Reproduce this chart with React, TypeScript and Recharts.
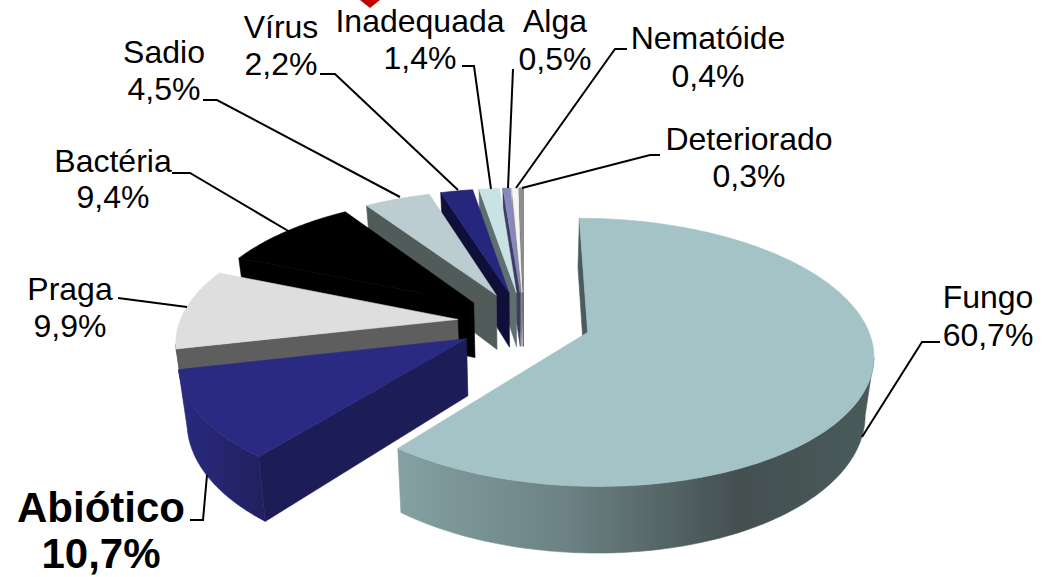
import { PieChart, Pie } from 'recharts';

// data, back-to-front so that the painter's order of the exploded slices works out
const categories = ['Deteriorado', 'Nematóide', 'Alga', 'Inadequada', 'Vírus', 'Sadio', 'Bactéria', 'Praga', 'Abiótico', 'Fungo'];
const values = [0.3, 0.4, 0.5, 1.4, 2.2, 4.5, 9.4, 9.9, 10.7, 60.7];
const valueLabels = ['0,3%', '0,4%', '0,5%', '1,4%', '2,2%', '4,5%', '9,4%', '9,9%', '10,7%', '60,7%'];

const topColors = ['#8F8F8F', '#F4F4F4', '#8888BC', '#C9E3E5', '#26267C', '#BBCDD1', '#000000', '#DEDEDE', '#2A2A82', '#A4C3C7'];
const sideColors = ['#6A6A6A', '#8A8A8A', '#3C3C62', '#5F6E6E', '#0F0F3A', '#505B5A', '#000000', '#5E5E5E', '#1C1C57', '#4B5B5B'];
const arcColors = ['#6A6A6A', '#8A8A8A', '#3C3C62', '#5F6E6E', '#0F0F3A', '#505B5A', '#000000', '#5E5E5E', 'url(#abioticoWall)', 'url(#fungoWall)'];

// label placement: name line centre / baselines, then the leader polyline
const labelX = [749, 708, 555, 420, 281, 164, 113, 70, 101, 988];
const nameY = [150, 49, 32, 32, 38, 63, 172, 300, 522, 308];
const valueY = [187, 87, 70, 69, 75, 100, 208, 337, 568, 346];
const leaders = [
  '660,155 650,155 522,188',
  '627,49 615,49 516,188',
  '513,69 508,188',
  '462,66 474,66 491,189',
  '320,74 335,74 458,190',
  '203,100 217,100 400,197',
  '172,173 190,173 290,232',
  '118,298 187,307',
  '190,520 203,520 207,475',
  '940,342 922,342 862,437',
];

const data = categories.map((name, i) => ({ name, value: values[i], idx: i }));

const WIDTH = 1050;
const HEIGHT = 577;
const CX = 524;
const CY = 322;
const RX = 278;
const RY = 128;
const PERSPECTIVE = 0.148;
const EXPLODE = 0.24;
const THICKNESS = 56;
const BOTTOM_SCALE = 0.975;

type Pt = { x: number; y: number; s: number };

function project(u: number, v: number): Pt {
  const s = 1 / (1 + PERSPECTIVE * v);
  return { x: CX + RX * u * s, y: CY - RY * v * s, s };
}

function lower(p: Pt) {
  return { x: CX + (p.x - CX) * BOTTOM_SCALE, y: p.y + THICKNESS * p.s };
}

const toPath = (pts: { x: number; y: number }[]) =>
  'M' + pts.map(p => `${p.x.toFixed(1)},${p.y.toFixed(1)}`).join('L') + 'Z';

function wallPaths(top: Pt[], from: number, to: number) {
  // a wall shows where the clockwise outline runs right to left
  const paths: string[] = [];
  let run: Pt[] = [];
  const flush = () => {
    if (run.length > 1) paths.push(toPath([...run, ...run.map(lower).reverse()]));
    run = [];
  };
  for (let i = from; i < to; i++) {
    if (top[i + 1].x < top[i].x) {
      if (!run.length) run.push(top[i]);
      run.push(top[i + 1]);
    } else flush();
  }
  flush();
  return paths;
}

function SliceShape(props: any) {
  const { startAngle, endAngle, idx } = props;
  const t0 = 450 - endAngle;
  const t1 = 450 - startAngle;
  const rad = (d: number) => (d * Math.PI) / 180;
  const mid = rad((t0 + t1) / 2);
  const ou = EXPLODE * Math.sin(mid);
  const ov = EXPLODE * Math.cos(mid);

  const steps = Math.max(2, Math.ceil(t1 - t0));
  const arc: Pt[] = [];
  for (let i = 0; i <= steps; i++) {
    const t = rad(t0 + ((t1 - t0) * i) / steps);
    arc.push(project(ou + Math.sin(t), ov + Math.cos(t)));
  }
  const apex = project(ou, ov);
  const outline = [apex, ...arc, apex];

  return (
    <g strokeWidth={0.6} strokeLinejoin="round">
      {wallPaths(outline, 0, 1).map((d, i) => <path key={'a' + i} d={d} fill={sideColors[idx]} stroke={sideColors[idx]} />)}
      {wallPaths(outline, outline.length - 2, outline.length - 1).map((d, i) => <path key={'b' + i} d={d} fill={sideColors[idx]} stroke={sideColors[idx]} />)}
      {wallPaths(outline, 1, outline.length - 2).map((d, i) => <path key={'c' + i} d={d} fill={arcColors[idx]} stroke={arcColors[idx]} />)}
      <path d={toPath(outline.slice(0, -1))} fill={topColors[idx]} stroke={topColors[idx]} />
    </g>
  );
}

function renderLabel(props: any) {
  const i = props.payload?.idx ?? props.idx;
  const bold = categories[i] === 'Abiótico';
  const textStyle = { fontFamily: '"Liberation Sans", Arial, sans-serif', fontSize: bold ? 42 : 32, fontWeight: bold ? 700 : 400 };
  return (
    <g key={categories[i]}>
      <polyline points={leaders[i]} fill="none" stroke="#000" strokeWidth={2} />
      <text x={labelX[i]} y={nameY[i]} textAnchor="middle" fill="#000" style={textStyle}>{categories[i]}</text>
      <text x={labelX[i]} y={valueY[i]} textAnchor="middle" fill="#000" style={textStyle}>{valueLabels[i]}</text>
    </g>
  );
}

export default function App() {
  return (
    <div style={{ position: 'absolute', left: 0, top: 0, width: WIDTH, height: HEIGHT, background: '#fff' }}>
      <PieChart width={WIDTH} height={HEIGHT} margin={{ top: 0, right: 0, bottom: 0, left: 0 }}>
        <defs>
          <linearGradient id="fungoWall" gradientUnits="userSpaceOnUse" x1={402} y1={0} x2={870} y2={0}>
            <stop offset="0" stopColor="#84A0A2" />
            <stop offset="0.35" stopColor="#6C8284" />
            <stop offset="0.72" stopColor="#444F50" />
            <stop offset="1" stopColor="#4A5A5A" />
          </linearGradient>
          <linearGradient id="abioticoWall" gradientUnits="userSpaceOnUse" x1={180} y1={0} x2={264} y2={0}>
            <stop offset="0" stopColor="#2A2A80" />
            <stop offset="1" stopColor="#20205F" />
          </linearGradient>
        </defs>
        <Pie
          data={data}
          dataKey="value"
          nameKey="name"
          cx={CX}
          cy={CY}
          innerRadius={0}
          outerRadius={RX}
          startAngle={90}
          endAngle={450}
          stroke="none"
          shape={SliceShape}
          label={renderLabel}
          labelLine={false}
          isAnimationActive={false}
        />
        <polygon points="360,0 380,0 370,8" fill="#C00000" />
      </PieChart>
    </div>
  );
}
